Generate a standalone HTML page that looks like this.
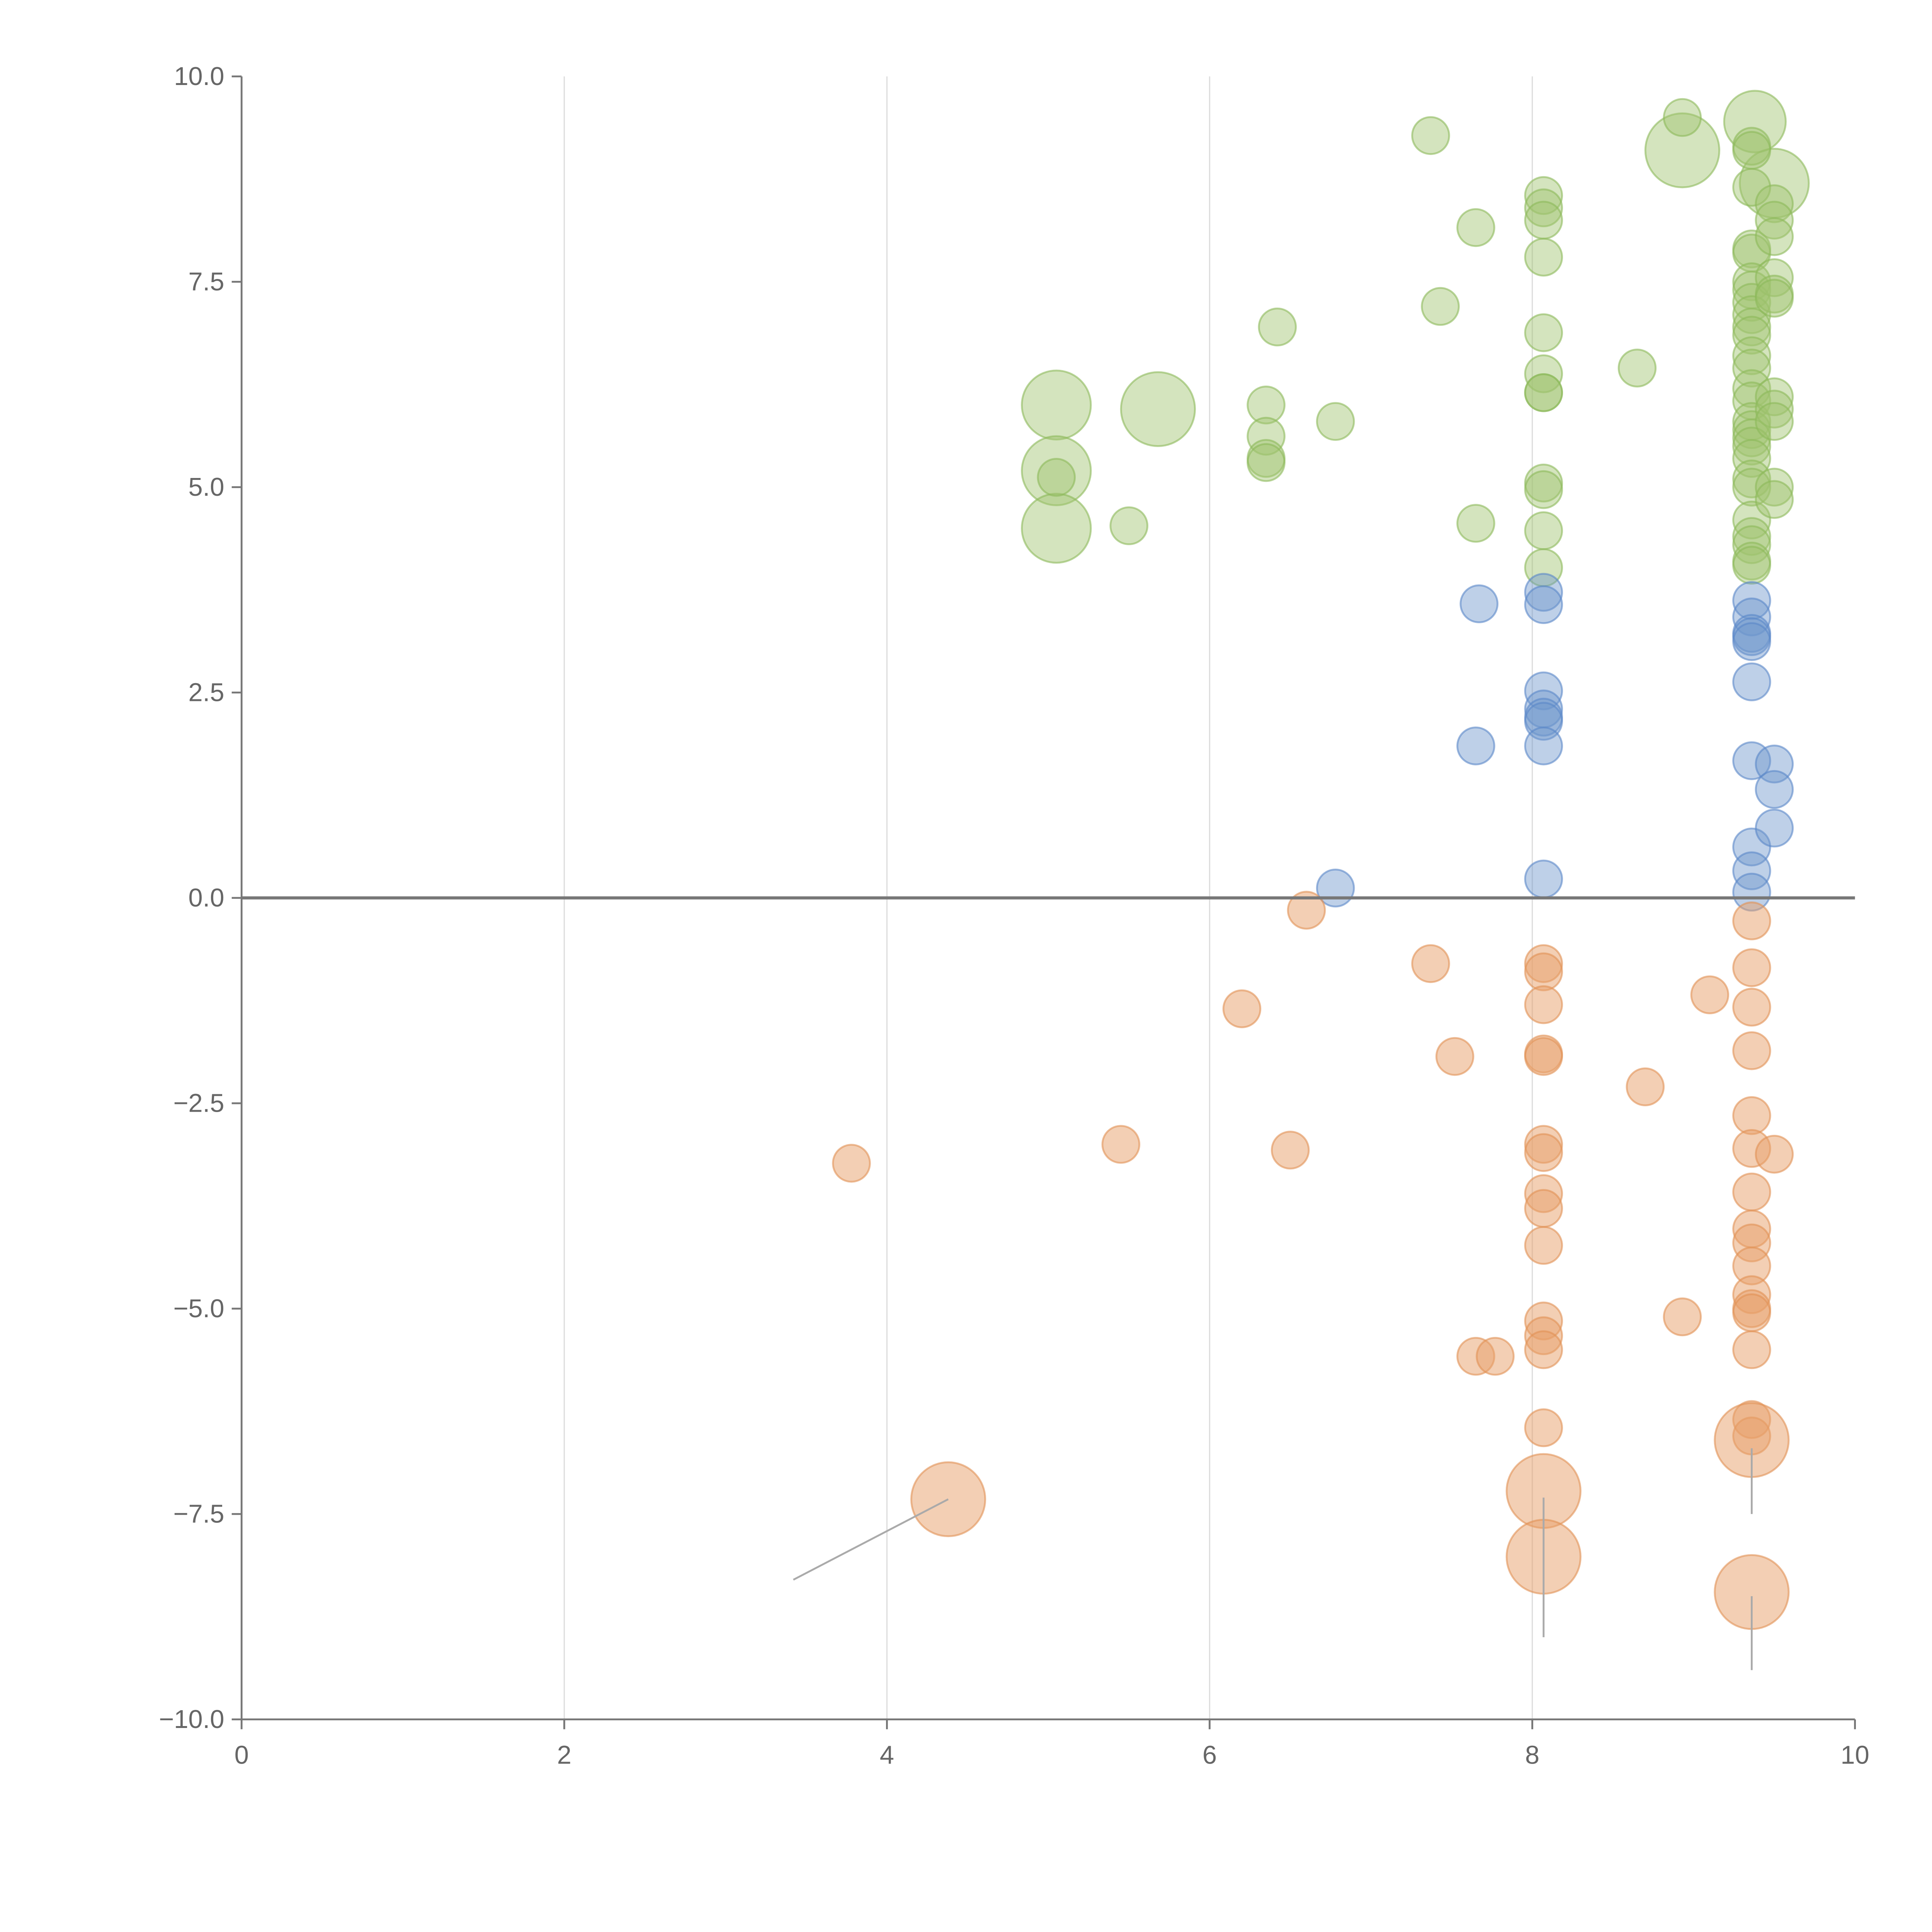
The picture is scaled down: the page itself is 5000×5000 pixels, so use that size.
<!DOCTYPE html>
<html><head><meta charset="utf-8"><style>
html,body{margin:0;padding:0;background:#fff;}
svg{display:block;}
text{font-family:"Liberation Sans",Arial,sans-serif;fill:#666;}
</style></head><body>
<svg id="chart" width="5000" height="5000" viewBox="0 0 1567.5 1567.5" xmlns="http://www.w3.org/2000/svg">
<g id="grid"></g>
<g id="marks"></g>
<g id="axes"></g>
</svg>
<script>
const xTicks=[0,2,4,6,8,10];
const yTicks=[10,7.5,5,2.5,0,-2.5,-5,-7.5,-10];
const greenPoints=[[5.05,6.0,28],[5.05,5.2,28],[5.05,4.5,28],[5.68,5.95,30],[8.93,9.1,30],[9.38,9.45,25],[9.5,8.7,28],
[5.05,5.12,15],[5.5,4.53,15],[6.35,6.0,15],[6.35,5.62,15],[6.35,5.35,15],[6.35,5.3,15],[6.42,6.95,15],[6.78,5.8,15],[7.37,9.28,15],[7.43,7.2,15],[7.65,8.16,15],[7.65,4.56,15],
[8.07,8.55,15],[8.07,8.4,15],[8.07,8.25,15],[8.07,7.8,15],[8.07,6.88,15],[8.07,6.38,15],[8.07,6.15,15],[8.07,6.15,15],[8.07,5.05,15],[8.07,4.97,15],[8.07,4.47,15],[8.07,4.02,15],[8.65,6.45,15],[8.93,9.5,15],
[9.36,9.15,15],[9.36,9.1,15],[9.36,8.65,15],[9.36,7.9,15],[9.36,7.85,15],[9.36,7.5,15],[9.36,7.4,15],[9.36,7.25,15],[9.36,7.1,15],[9.36,6.95,15],[9.36,6.85,15],[9.36,6.6,15],[9.36,6.45,15],[9.36,6.2,15],[9.36,6.05,15],[9.36,5.8,15],[9.36,5.7,15],[9.36,5.6,15],[9.36,5.5,15],[9.36,5.35,15],[9.36,5.1,15],[9.36,5.0,15],[9.36,4.6,15],[9.36,4.4,15],[9.36,4.3,15],[9.36,4.1,15],[9.36,4.05,15],
[9.5,8.45,15],[9.5,8.25,15],[9.5,8.05,15],[9.5,7.55,15],[9.5,7.35,15],[9.5,7.3,15],[9.5,6.1,15],[9.5,5.95,15],[9.5,5.8,15],[9.5,5.0,15],[9.5,4.85,15]];
const bluePoints=[[6.78,0.12,15],[7.65,1.85,15],[7.67,3.58,15],[8.07,3.72,15],[8.07,3.57,15],[8.07,2.52,15],[8.07,2.3,15],[8.07,2.2,15],[8.07,2.15,15],[8.07,1.85,15],[8.07,0.23,15],
[9.36,3.62,15],[9.36,3.42,15],[9.36,3.22,15],[9.36,3.18,15],[9.36,3.12,15],[9.36,2.63,15],[9.36,1.67,15],[9.36,0.62,15],[9.36,0.33,15],[9.36,0.07,15],[9.5,1.63,15],[9.5,1.32,15],[9.5,0.85,15]];
const orangePoints=[[3.78,-3.23,15],[4.38,-7.32,30],[5.45,-3.0,15],[6.2,-1.35,15],[6.5,-3.07,15],[6.6,-0.15,15],[7.37,-0.8,15],[7.52,-1.93,15],[7.65,-5.58,15],[7.77,-5.58,15],
[8.07,-0.8,15],[8.07,-0.9,15],[8.07,-1.3,15],[8.07,-1.9,15],[8.07,-1.93,15],[8.07,-3.0,15],[8.07,-3.1,15],[8.07,-3.6,15],[8.07,-3.78,15],[8.07,-4.23,15],[8.07,-5.15,15],[8.07,-5.33,15],[8.07,-5.5,15],[8.07,-6.45,15],[8.07,-7.22,30],[8.07,-8.02,30],
[8.7,-2.3,15],[8.93,-5.1,15],[9.1,-1.18,15],[9.36,-0.28,15],[9.36,-0.85,15],[9.36,-1.33,15],[9.36,-1.86,15],[9.36,-2.65,15],[9.36,-3.05,15],[9.36,-3.58,15],[9.36,-4.03,15],[9.36,-4.2,15],[9.36,-4.48,15],[9.36,-4.83,15],[9.36,-5.0,15],[9.36,-5.05,15],[9.36,-5.5,15],[9.36,-6.35,15],[9.36,-6.55,15],[9.36,-6.6,30],[9.36,-8.45,30],[9.5,-3.12,15]];
const leaderLines=[[4.38,-7.32,3.42,-8.3],[8.07,-7.3,8.07,-9.0],[9.36,-6.7,9.36,-7.5],[9.36,-8.5,9.36,-9.4]];

const NS="http://www.w3.org/2000/svg";
const X0=196,X1=1505,Y0=62,Y1=1395;
function sx(v){return X0+(v-0)/(10-0)*(X1-X0);}
function sy(v){return Y0+(10-v)/20*(Y1-Y0);}
function mk(tag,attrs,parent){const e=document.createElementNS(NS,tag);for(const k in attrs)e.setAttribute(k,attrs[k]);parent.appendChild(e);return e;}
const grid=document.getElementById('grid'),marks=document.getElementById('marks'),axes=document.getElementById('axes');
xTicks.forEach(t=>{if(t>0&&t<10){const l=mk('line',{x1:sx(t),x2:sx(t),y1:Y0,y2:Y1,stroke:'#ddd','stroke-width':1},grid);

}});
function drawSeries(arr,fill,stroke,name){arr.forEach(p=>{const c=mk('circle',{cx:sx(p[0]),cy:sy(p[1]),r:p[2],fill:fill,stroke:stroke,'stroke-width':1.5},marks);

});}
drawSeries(greenPoints,'rgba(160,196,110,0.45)','rgba(140,185,90,0.6)','green-bubble');
drawSeries(bluePoints,'rgba(110,150,205,0.45)','rgba(90,135,200,0.6)','blue-bubble');
drawSeries(orangePoints,'rgba(232,160,105,0.5)','rgba(225,145,85,0.6)','orange-bubble');
leaderLines.forEach(a=>{const l=mk('line',{x1:sx(a[0]),y1:sy(a[1]),x2:sx(a[2]),y2:sy(a[3]),stroke:'#aaa','stroke-width':1.5},marks);

});
const z=mk('line',{x1:X0,x2:X1,y1:sy(0),y2:sy(0),stroke:'#777','stroke-width':2.5},axes);


const ya=mk('line',{x1:X0,x2:X0,y1:Y0,y2:Y1,stroke:'#777','stroke-width':1.5},axes);


const xa=mk('line',{x1:X0,x2:X1,y1:Y1,y2:Y1,stroke:'#777','stroke-width':1.5},axes);


xTicks.forEach(t=>{mk('line',{x1:sx(t),x2:sx(t),y1:Y1,y2:Y1+8,stroke:'#777','stroke-width':1.5},axes);
const tx=mk('text',{x:sx(t),y:Y1+36,'font-size':21,'text-anchor':'middle'},axes);tx.textContent=String(t);

});
yTicks.forEach(t=>{mk('line',{x1:X0-8,x2:X0,y1:sy(t),y2:sy(t),stroke:'#777','stroke-width':1.5},axes);
const tx=mk('text',{x:X0-14,y:sy(t)+7,'font-size':21,'text-anchor':'end'},axes);tx.textContent=t.toFixed(1).replace('-','\u2212');

});
</script>
</body></html>
